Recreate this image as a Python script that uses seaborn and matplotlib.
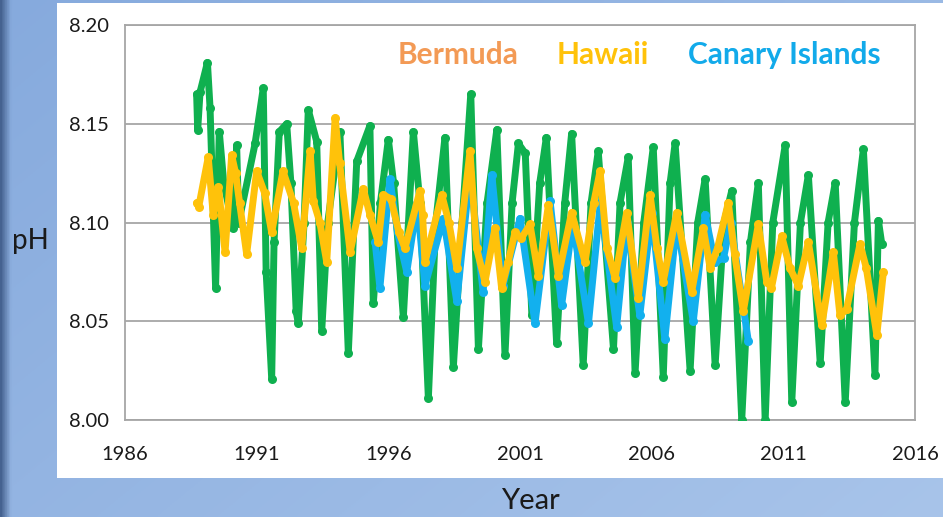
import numpy as np
import pandas as pd
import matplotlib
matplotlib.use("Agg")
import matplotlib.pyplot as plt
import seaborn as sns
from matplotlib.patches import Rectangle

# ---------------- data ----------------
bermuda_year = [1988.72, 1988.76, 1988.85, 1989.13, 1989.23, 1989.44, 1989.58, 1989.75,
                1990.11, 1990.24, 1990.32, 1990.94, 1991.25, 1991.36, 1991.57, 1991.66,
                1991.86, 1992.14, 1992.30, 1992.50, 1992.58, 1992.80, 1992.96, 1993.28,
                1993.47, 1993.70, 1994.00, 1994.16, 1994.48, 1994.80, 1995.30, 1995.43,
                1995.70, 1996.00, 1996.20, 1996.57, 1996.95, 1997.20, 1997.52, 1997.80,
                1998.15, 1998.47, 1998.80, 1999.13, 1999.42, 1999.75, 2000.12, 2000.43,
                2000.70, 2000.94, 2001.20, 2001.45, 2001.75, 2002.00, 2002.39, 2002.70,
                2002.96, 2003.40, 2003.70, 2003.97, 2004.55, 2004.80, 2005.11, 2005.37,
                2005.70, 2006.06, 2006.44, 2006.70, 2006.89, 2007.46, 2007.75, 2008.03,
                2008.41, 2008.75, 2009.04, 2009.42, 2009.75, 2010.05, 2010.31, 2010.60,
                2011.07, 2011.32, 2011.65, 2011.95, 2012.40, 2012.70, 2012.97, 2013.35,
                2013.70, 2014.04, 2014.48, 2014.61, 2014.74]
bermuda_ph = [8.165, 8.147, 8.166, 8.181, 8.158, 8.067, 8.146, 8.120,
              8.097, 8.139, 8.100, 8.140, 8.168, 8.075, 8.021, 8.090,
              8.146, 8.150, 8.120, 8.055, 8.049, 8.100, 8.157, 8.141,
              8.045, 8.100, 8.130, 8.146, 8.034, 8.131, 8.149, 8.059,
              8.110, 8.142, 8.120, 8.052, 8.146, 8.110, 8.011, 8.100,
              8.143, 8.027, 8.100, 8.165, 8.036, 8.110, 8.147, 8.033,
              8.110, 8.140, 8.135, 8.053, 8.120, 8.143, 8.039, 8.110,
              8.145, 8.028, 8.110, 8.136, 8.036, 8.110, 8.133, 8.024,
              8.100, 8.138, 8.022, 8.120, 8.140, 8.025, 8.100, 8.122,
              8.028, 8.100, 8.116, 8.000, 8.090, 8.120, 8.000, 8.100,
              8.139, 8.009, 8.100, 8.124, 8.029, 8.100, 8.120, 8.009,
              8.100, 8.137, 8.023, 8.101, 8.089]

hawaii_year = [1988.72, 1988.80, 1989.16, 1989.35, 1989.55, 1989.80, 1990.05, 1990.20,
               1990.35, 1990.62, 1991.00, 1991.30, 1991.57, 1992.00, 1992.40, 1992.71,
               1993.03, 1993.15, 1993.40, 1993.66, 1993.98, 1994.15, 1994.55, 1995.05,
               1995.30, 1995.62, 1995.81, 1996.10, 1996.40, 1996.63, 1997.20, 1997.30,
               1997.39, 1998.03, 1998.30, 1998.60, 1999.10, 1999.35, 1999.67, 2000.05,
               2000.30, 2000.55, 2000.81, 2001.05, 2001.38, 2001.70, 2002.08, 2002.46,
               2002.96, 2003.47, 2003.80, 2004.04, 2004.30, 2004.61, 2005.05, 2005.49,
               2005.94, 2006.20, 2006.44, 2006.95, 2007.52, 2007.96, 2008.22, 2008.50,
               2008.91, 2009.15, 2009.48, 2010.05, 2010.37, 2010.55, 2010.94, 2011.25,
               2011.57, 2011.95, 2012.46, 2012.90, 2013.15, 2013.40, 2013.91, 2014.15,
               2014.55, 2014.80]
hawaii_ph = [8.110, 8.108, 8.133, 8.104, 8.118, 8.085, 8.134, 8.125,
             8.110, 8.084, 8.126, 8.115, 8.095, 8.126, 8.110, 8.087,
             8.136, 8.111, 8.100, 8.080, 8.153, 8.130, 8.085, 8.117,
             8.104, 8.090, 8.114, 8.112, 8.095, 8.087, 8.116, 8.104,
             8.080, 8.114, 8.100, 8.077, 8.136, 8.087, 8.070, 8.097,
             8.067, 8.080, 8.095, 8.092, 8.099, 8.073, 8.109, 8.073,
             8.105, 8.080, 8.110, 8.126, 8.087, 8.072, 8.105, 8.062,
             8.114, 8.087, 8.070, 8.105, 8.065, 8.097, 8.077, 8.087,
             8.110, 8.084, 8.055, 8.099, 8.070, 8.067, 8.093, 8.077,
             8.068, 8.090, 8.048, 8.085, 8.053, 8.056, 8.089, 8.077,
             8.043, 8.075]

canary_year = [1995.50, 1995.68, 1996.06, 1996.35, 1996.70, 1997.10, 1997.39, 1998.09,
               1998.60, 1999.10, 1999.60, 1999.93, 2000.35, 2001.00, 2001.57, 2002.14,
               2002.58, 2003.00, 2003.60, 2004.05, 2004.67, 2005.05, 2005.55, 2006.00,
               2006.50, 2006.95, 2007.58, 2008.03, 2008.40, 2008.73, 2009.00, 2009.67]
canary_ph = [8.090, 8.067, 8.122, 8.095, 8.075, 8.110, 8.068, 8.102,
             8.060, 8.125, 8.065, 8.124, 8.068, 8.102, 8.049, 8.111,
             8.058, 8.100, 8.049, 8.110, 8.047, 8.100, 8.053, 8.105,
             8.041, 8.100, 8.050, 8.104, 8.080, 8.082, 8.100, 8.040]

legend_names = ["Bermuda", "Hawaii", "Canary Islands"]
x_ticks = [1986, 1991, 1996, 2001, 2006, 2011, 2016]
y_ticks = [8.00, 8.05, 8.10, 8.15, 8.20]

# ---------------- style ----------------
sns.set_style("white")
plt.rcParams["font.family"] = ["Lato", "DejaVu Sans"]

W, H = 943, 517
fig = plt.figure(figsize=(W / 100, H / 100), dpi=100)

# blue gradient background
bg = fig.add_axes([0, 0, 1, 1], zorder=-10)
xs = np.linspace(0, 1, 400)
ys = np.linspace(0, 1, 220)
X, Y = np.meshgrid(xs, ys)
c_left = np.array([0x86, 0xaa, 0xdd]) / 255
c_right = np.array([0xa8, 0xc4, 0xea]) / 255
t = np.clip(0.6 * X + 0.4 * Y, 0, 1)[..., None]
img = c_left * (1 - t) + c_right * t
edge = np.clip(X * W / 10.0, 0, 1)[..., None]
dark = np.array([0x45, 0x62, 0x90]) / 255
img = dark * (1 - edge) + img * edge
bg.imshow(img, aspect="auto", extent=[0, 1, 0, 1], origin="upper")
bg.set_axis_off()

# white panel
fig.patches.append(Rectangle((57 / W, 1 - 478 / H), (W - 57) / W, (478 - 3) / H,
                             transform=fig.transFigure, facecolor="white",
                             edgecolor="none", zorder=-5))

ax = fig.add_axes([125 / W, 1 - 420 / H, 790 / W, 395 / H])
ax.set_facecolor("white")

df_b = pd.DataFrame({"year": bermuda_year, "ph": bermuda_ph})
df_h = pd.DataFrame({"year": hawaii_year, "ph": hawaii_ph})
df_c = pd.DataFrame({"year": canary_year, "ph": canary_ph})

green, yellow, blue = "#0fb04f", "#ffc20a", "#12b0ee"
kw = dict(x="year", y="ph", ax=ax, marker="o", markersize=6.5,
          markeredgewidth=0, sort=False, estimator=None,
          solid_joinstyle="round", solid_capstyle="round")
sns.lineplot(data=df_b, color=green, zorder=3, linewidth=5.0, **kw)
sns.lineplot(data=df_c, color=blue, zorder=4, linewidth=5.0, **kw)
sns.lineplot(data=df_h, color=yellow, zorder=5, linewidth=5.0, **kw)

ax.set_xlim(1986, 2016)
ax.set_ylim(8.00, 8.20)
ax.set_xticks(x_ticks)
ax.set_yticks(y_ticks)
ax.set_xticklabels([str(v) for v in x_ticks])
ax.set_yticklabels([f"{v:.2f}" for v in y_ticks])
ax.yaxis.grid(True, color="#a6a6a6", linewidth=1.3)
ax.set_axisbelow(True)
for s in ax.spines.values():
    s.set_visible(True)
    s.set_color("#a6a6a6")
    s.set_linewidth(1.3)
ax.tick_params(axis="x", length=0, pad=19, labelsize=14.5, labelcolor="#1a1a1a")
ax.tick_params(axis="y", length=0, pad=40, labelsize=14.5, labelcolor="#1a1a1a")
for lab in ax.get_yticklabels():
    lab.set_horizontalalignment("left")
ax.set_xlabel("")
ax.set_ylabel("")

# coloured series names
name_colors = ["#f39a55", "#ffc20a", "#12aaea"]
name_x = [0.4215, 0.605, 0.834]
for nm, col, xx in zip(legend_names, name_colors, name_x):
    ax.text(xx, 0.923, nm, transform=ax.transAxes, ha="center", va="center",
            fontsize=21.5, fontweight="bold", color=col, zorder=10)

fig.text(30 / W, 1 - 241 / H, "pH", ha="center", va="center", fontsize=20,
         color="#1a1a1a")
fig.text(530 / W, 1 - 501 / H, "Year", ha="center", va="center", fontsize=21,
         color="#1a1a1a")

fig.savefig("out.png", dpi=100)
